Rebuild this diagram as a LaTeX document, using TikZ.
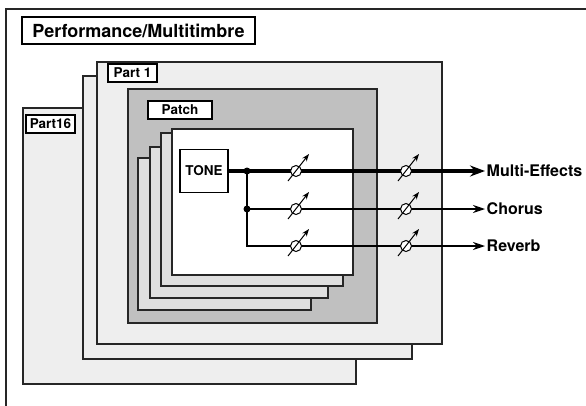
\documentclass[tikz,border=0pt]{standalone}
\usepackage{fontspec}
\setmainfont{TeX Gyre Heros}
\usetikzlibrary{arrows.meta}

\definecolor{partgray}{RGB}{238,238,238}
\definecolor{patchgray}{RGB}{192,192,192}
\definecolor{tonegray}{RGB}{223,223,223}

\tikzset{
  box/.style={draw=black!85, line width=1.2pt},
  tag/.style={draw, fill=white, line width=1.3pt, inner sep=0pt,
    minimum height=18pt, font=\bfseries\fontsize{13.5}{15}\selectfont},
  outlabel/.style={anchor=west, inner xsep=1.5pt, inner ysep=0pt,
    font=\bfseries\fontsize{16}{18}\selectfont},
  sig/.style={line width=1.2pt, -{Stealth[length=12pt,width=8pt,inset=4pt]}},
  sigbus/.style={line width=3.2pt, -{Stealth[length=15pt,width=11pt,inset=5pt]}},
  knob/.style={circle, draw, fill=white, line width=1pt, minimum size=11pt, inner sep=0pt},
  knobarrow/.style={line width=1pt, -{Stealth[length=7.5pt,width=5.5pt]}},
  dot/.style={circle, fill, inner sep=0pt, minimum size=7pt},
}

\begin{document}
\begin{tikzpicture}[x=1pt, y=-1pt, line cap=butt, line join=miter]
  \useasboundingbox (0,0) rectangle (586,405);

  % --- OUTER FRAME AND TITLE ---
  \draw[line width=1.8pt, black!85] (6,9) rectangle (620,440);
  \node[draw, fill=white, line width=2pt, minimum width=233pt, minimum height=27pt,
    inner sep=0pt, font=\bfseries\fontsize{18}{20}\selectfont] (title) at (138.5,30.5)
    {Performance/Multitimbre};

  % --- PARTS (BACK TO FRONT) ---
  \foreach \l/\t/\r/\b in {23/108/356/384, 83/76/412/359, 97/62/442/344}
    \draw[box, fill=partgray] (\l,\t) rectangle (\r,\b);
  \node[tag, minimum width=49pt] (part16) at (50.5,124) {Part16};
  \node[tag, minimum width=49pt] (part1) at (132.5,73) {Part 1};

  % --- PATCH ---
  \draw[box, fill=patchgray] (128,89) rectangle (377,323);
  \node[tag, minimum width=64pt] (patch) at (180,110) {Patch};

  % --- TONE STACK ---
  \foreach \l/\t/\r/\b in {138/158/311/310, 150/147/328/298, 161/133/343/286}
    \draw[box, fill=tonegray] (\l,\t) rectangle (\r,\b);
  \draw[box, fill=white] (172,129) rectangle (353,275);
  \node[tag, minimum width=48pt, minimum height=43pt] (tone) at (204,171) {TONE};

  % --- OUTPUTS ---
  \node[outlabel] (mfx) at (485,171) {Multi-Effects};
  \node[outlabel] (cho) at (485,209) {Chorus};
  \node[outlabel] (rev) at (485,246) {Reverb};

  % --- SIGNAL LINES ---
  \coordinate (j1) at (247,171);
  \coordinate (j2) at (247,209);
  \draw[sigbus] (tone.east) -- (mfx.west);
  \draw[sig] (j2) -- (cho.west);
  \draw[sig] (j1) |- (rev.west);
  \node[dot] (d1) at (j1) {};
  \node[dot] (d2) at (j2) {};

  % --- LEVEL KNOBS ---
  \foreach \x in {296,406}
    \foreach \y in {171,209,246} {
      \node[knob] (k\x\y) at (\x,\y) {};
      \draw[knobarrow] ([shift={(-8,10)}]k\x\y.center) -- ([shift={(13,-17)}]k\x\y.center);
    }

\end{tikzpicture}
\end{document}
